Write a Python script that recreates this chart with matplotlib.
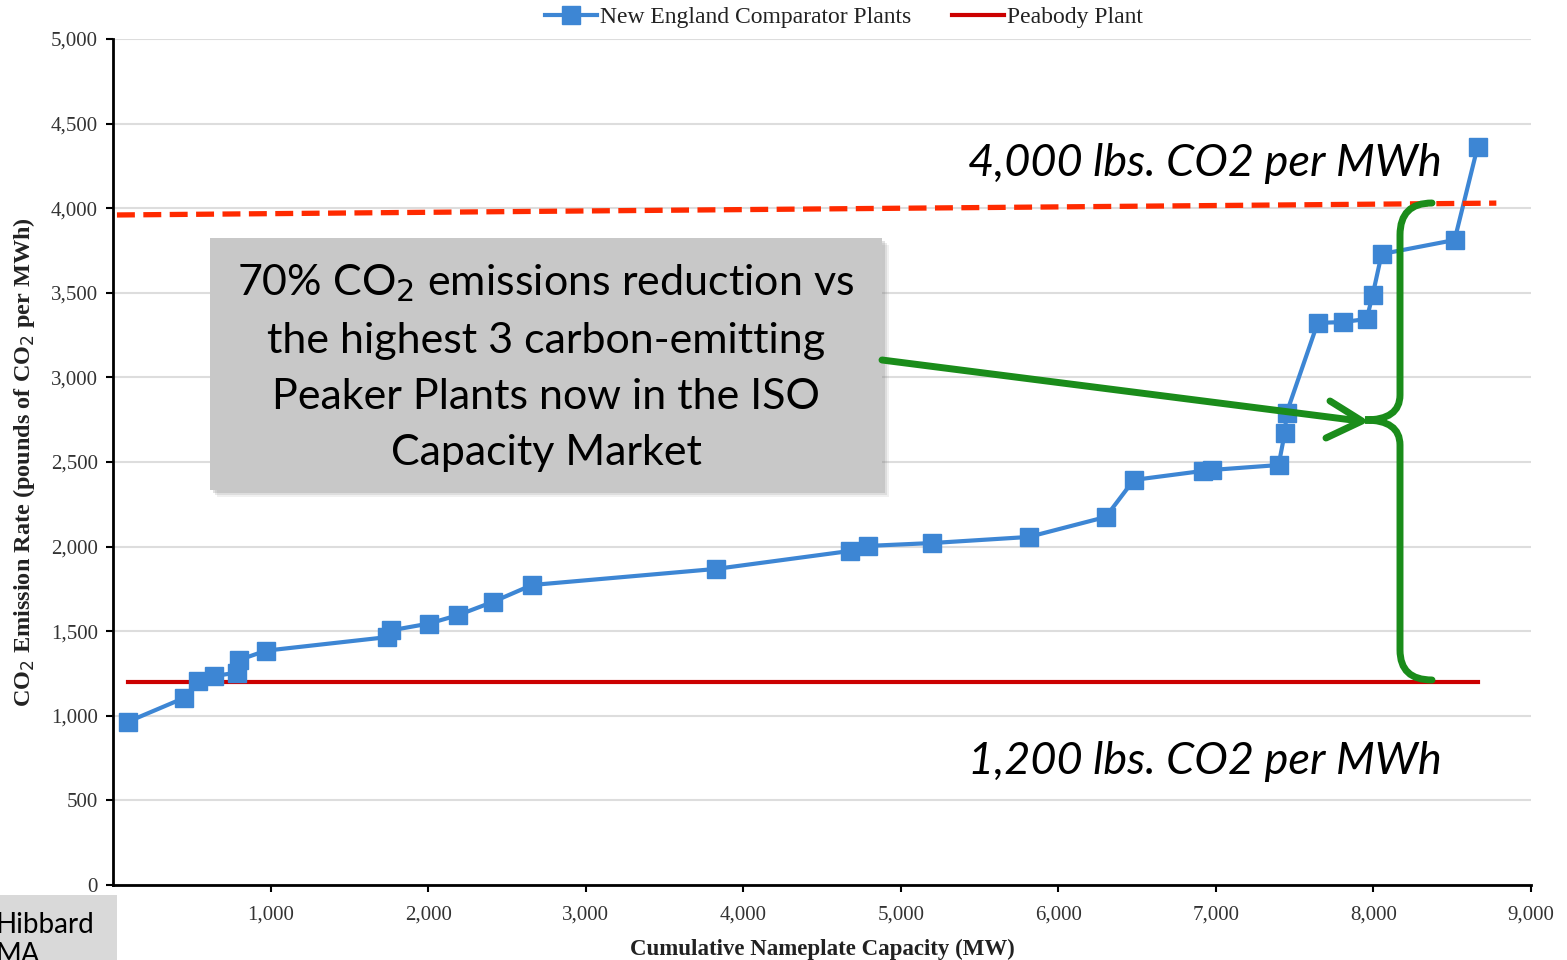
import matplotlib
matplotlib.use("Agg")
import matplotlib.pyplot as plt
from matplotlib.patches import Rectangle, PathPatch
from matplotlib.path import Path
from matplotlib.ticker import FuncFormatter

# cumulative nameplate capacity (MW) and emission rate (lbs CO2 / MWh)
capacity = [95, 450, 540, 641, 787, 800, 971, 1740, 1765, 2005, 2190, 2411,
            2659, 3826, 4676, 4791, 5197, 5812, 6301, 6479, 6916, 6973, 7398,
            7437, 7449, 7646, 7805, 7957, 7995, 8052, 8515, 8661]
emission = [965, 1105, 1205, 1235, 1255, 1330, 1385, 1465, 1505, 1545, 1595,
            1673, 1773, 1868, 1974, 2004, 2021, 2057, 2175, 2394, 2447, 2453,
            2482, 2671, 2790, 3322, 3327, 3345, 3487, 3729, 3812, 4362]

peabody_rate = 1200
peabody_span = [95, 8661]
peaker_rate = 4000

W, H = 1567, 960
fig = plt.figure(figsize=(W / 100, H / 100), dpi=100)
fig.patch.set_facecolor("white")


def px(x, y):
    # pixel position (from top-left) -> figure fraction
    return (x / W, 1 - y / H)


def fig_line(xs, ys, **kw):
    fx = [x / W for x in xs]
    fy = [1 - y / H for y in ys]
    fig.lines.append(plt.Line2D(fx, fy, transform=fig.transFigure, **kw))


ax = fig.add_axes([113 / W, 1 - 885 / H, (1531 - 113) / W, (885 - 39) / H])
ax.set_xlim(0, 9000)
ax.set_ylim(0, 5000)

serif = "Liberation Serif"
ax.set_yticks(range(0, 5001, 500))
ax.set_xticks(range(1000, 9001, 1000))
fmt = FuncFormatter(lambda v, p: f"{int(v):,}")
ax.xaxis.set_major_formatter(fmt)
ax.yaxis.set_major_formatter(fmt)
for lab in ax.get_xticklabels() + ax.get_yticklabels():
    lab.set_fontfamily(serif)
    lab.set_fontsize(15)
    lab.set_color("#333333")
ax.tick_params(axis="both", direction="out", length=5, width=1.5, color="black")
ax.tick_params(axis="x", pad=10)
ax.tick_params(axis="y", pad=6)

for s in ["top", "right"]:
    ax.spines[s].set_visible(False)
for s in ["left", "bottom"]:
    ax.spines[s].set_linewidth(2)
    ax.spines[s].set_color("black")

ax.grid(axis="y", color="#dddddd", linewidth=1.5)
ax.set_axisbelow(True)

ax.set_xlabel("Cumulative Nameplate Capacity (MW)", fontfamily=serif,
              fontweight="bold", fontsize=16.5, color="#222222", labelpad=10)
ax.set_ylabel("CO$_2$ Emission Rate (pounds of CO$_2$ per MWh)", fontfamily=serif,
              fontweight="bold", fontsize=17.5, color="#222222", labelpad=10)

blue = "#3d86d4"
red = "#cc0000"
ax.plot(capacity, emission, color=blue, linewidth=3, marker="s", markersize=13,
        markerfacecolor=blue, markeredgecolor=blue,
        label="New England Comparator Plants", zorder=4)
ax.plot(peabody_span, [peabody_rate, peabody_rate], color=red, linewidth=3,
        label="Peabody Plant", zorder=3)

leg = fig.legend(loc="center", bbox_to_anchor=(844 / W, 1 - 17 / H), ncol=2,
                 frameon=False, prop={"family": serif, "size": 17},
                 handlelength=2.2, handletextpad=0.1, columnspacing=1.75)
for t in leg.get_texts():
    t.set_color("#222222")

# dashed 4,000 lb reference line drawn across the chart
ax.plot([25, 8780], [peaker_rate - 40, peaker_rate + 30], color="#ff2a00",
        linewidth=3.8, dashes=(3.4, 1.6), zorder=5, clip_on=False)

# grey callout box with soft shadow
for off, a in [(7, 0.12), (5, 0.18), (3, 0.25)]:
    fig.patches.append(Rectangle(px(210 + off, 490 + off), (882 - 210) / W,
                                 (490 - 238) / H, transform=fig.transFigure,
                                 facecolor="#888888", edgecolor="none",
                                 alpha=a, zorder=5))
fig.patches.append(Rectangle(px(210, 490), (882 - 210) / W, (490 - 238) / H,
                             transform=fig.transFigure, facecolor="#c8c8c8",
                             edgecolor="none", zorder=6))
fig.text(546 / W, 1 - 367 / H,
         "70% CO$_2$ emissions reduction vs\nthe highest 3 carbon-emitting\n"
         "Peaker Plants now in the ISO\nCapacity Market",
         ha="center", va="center", fontfamily="Lato", fontsize=31,
         linespacing=1.58, color="black", zorder=7)

fig.text(1442 / W, 1 - 164 / H, "4,000 lbs. CO2 per MWh", ha="right",
         va="center", fontfamily="Lato", fontstyle="italic", fontsize=32.5,
         color="black", zorder=7)
fig.text(1442 / W, 1 - 761 / H, "1,200 lbs. CO2 per MWh", ha="right",
         va="center", fontfamily="Lato", fontstyle="italic", fontsize=32.5,
         color="black", zorder=7)

green = "#1a8c1a"
# arrow from the callout to the brace
fig_line([882, 1360], [360, 421], color=green, linewidth=5,
         solid_capstyle="round", zorder=8)
fig_line([1330, 1362, 1326], [401, 421, 438], color=green, linewidth=5,
         solid_capstyle="round", solid_joinstyle="round", zorder=8)

# curly brace spanning 1,200 to 4,000
pts = [(1432, 203), (1400, 203), (1400, 235),
       (1400, 395),
       (1400, 420), (1365, 420),
       (1400, 420), (1400, 445),
       (1400, 650),
       (1400, 680), (1432, 680)]
verts = [px(*p) for p in pts]
codes = [Path.MOVETO, Path.CURVE3, Path.CURVE3, Path.LINETO,
         Path.CURVE3, Path.CURVE3, Path.CURVE3, Path.CURVE3,
         Path.LINETO, Path.CURVE3, Path.CURVE3]
fig.patches.append(PathPatch(Path(verts, codes), transform=fig.transFigure,
                             facecolor="none", edgecolor=green, linewidth=5,
                             capstyle="round", zorder=8))

# slide footer fragment, bottom left
fig.patches.append(Rectangle((0, 0), 117 / W, (960 - 895) / H,
                             transform=fig.transFigure, facecolor="#d9d9d9",
                             edgecolor="none", zorder=6))
fig.text(-4 / W, 1 - 940 / H, "Hibbard\nMA", ha="left", va="center",
         fontfamily="Lato", fontsize=20, linespacing=1.15, zorder=7)

fig.savefig("out.png", dpi=100, facecolor="white")
